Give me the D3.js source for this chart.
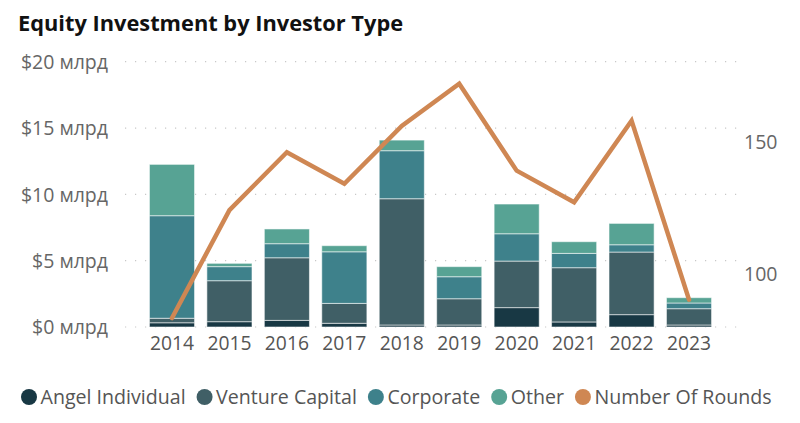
<!DOCTYPE html>
<html>
<head>
<meta charset="utf-8">
<script src="https://cdn.jsdelivr.net/npm/d3@7"></script>
<style>
  body { margin: 0; background: #fff; }
  svg text { font-family: "Open Sans", "Noto Sans", sans-serif; }
</style>
</head>
<body>
<svg id="chart"></svg>
<script>
  var years = ["2014", "2015", "2016", "2017", "2018", "2019", "2020", "2021", "2022", "2023"];
  // billions of USD
  var angel     = [0.32, 0.40, 0.50, 0.28, 0.15, 0.15, 1.46, 0.38, 0.93, 0.15];
  var venture   = [0.34, 3.09, 4.72, 1.50, 9.52, 1.98, 3.51, 4.09, 4.72, 1.23];
  var corporate = [7.73, 1.06, 1.06, 3.89, 3.62, 1.66, 2.06, 1.08, 0.55, 0.43];
  var other     = [3.87, 0.25, 1.11, 0.46, 0.80, 0.76, 2.24, 0.88, 1.61, 0.40];
  var rounds    = [83, 124, 146, 134, 156, 172, 139, 127, 158, 90];
  var leftTicks = [0, 5, 10, 15, 20];
  var rightTicks = [100, 150];

  var seriesNames = ["Angel Individual", "Venture Capital", "Corporate", "Other"];
  var colors = ["#183844", "#405f66", "#3e818b", "#57a394"];
  var lineColor = "#cf8753";

  var svgWidth = 800, svgHeight = 423;
  var svg = d3.select("#chart")
    .attr("width", svgWidth)
    .attr("height", svgHeight);

  // stack rows
  var rows = years.map(function(y, i) {
    return { year: y, a: angel[i], v: venture[i], c: corporate[i], o: other[i], r: rounds[i] };
  });
  var keys = ["a", "v", "c", "o"];
  var stacked = d3.stack().keys(keys)(rows);

  var x = d3.scaleBand().domain(years).range([143.3, 717.7]).paddingInner(0.215).paddingOuter(0.107);
  var y = d3.scaleLinear().domain([0, 20]).range([327, 61.7]);
  var y2 = d3.scaleLinear().domain([79.6, 180.4]).range([327, 61.7]);

  svg.append("text")
    .attr("x", 18).attr("y", 31)
    .attr("font-size", 21.8).attr("font-weight", "bold").attr("fill", "#111")
    .text("Equity Investment by Investor Type");

  // gridlines
  svg.append("g").selectAll("line")
    .data(leftTicks).enter().append("line")
    .attr("x1", 125).attr("x2", 738)
    .attr("y1", function(d) { return y(d); })
    .attr("y2", function(d) { return y(d); })
    .attr("stroke", "#c8c8c8")
    .attr("stroke-width", 1.2)
    .attr("stroke-dasharray", "1.2,8.8");

  var yAxis = d3.axisLeft(y).tickValues(leftTicks)
    .tickFormat(function(d) { return "$" + d + " млрд"; })
    .tickSize(0).tickPadding(0);
  var gy = svg.append("g").attr("transform", "translate(108,0)").call(yAxis);
  gy.select(".domain").remove();
  gy.selectAll("text").attr("font-size", 19.5).attr("fill", "#666").attr("dy", "0.35em");

  var y2Axis = d3.axisRight(y2).tickValues(rightTicks).tickSize(0).tickPadding(0);
  var gy2 = svg.append("g").attr("transform", "translate(744,0)").call(y2Axis);
  gy2.select(".domain").remove();
  gy2.selectAll("text").attr("font-size", 19.5).attr("fill", "#666").attr("dy", "0.35em");

  var xAxis = d3.axisBottom(x).tickSize(0).tickPadding(0);
  var gx = svg.append("g").attr("transform", "translate(0,336)").call(xAxis);
  gx.select(".domain").remove();
  gx.selectAll("text").attr("font-size", 19.3).attr("fill", "#555").attr("dy", "0.71em");

  // bars
  svg.append("g").selectAll("g")
    .data(stacked).enter().append("g")
    .attr("fill", function(d, i) { return colors[i]; })
    .selectAll("rect")
    .data(function(d) { return d; }).enter().append("rect")
    .attr("x", function(d) { return x(d.data.year); })
    .attr("width", x.bandwidth())
    .attr("y", function(d) { return y(d[1]); })
    .attr("height", function(d) { return y(d[0]) - y(d[1]); })
    .attr("stroke", "rgba(255,255,255,0.55)")
    .attr("stroke-width", 1);

  // line
  var line = d3.line()
    .x(function(d) { return x(d.year) + x.bandwidth() / 2; })
    .y(function(d) { return y2(d.r); });
  svg.append("path")
    .datum(rows)
    .attr("fill", "none")
    .attr("stroke", lineColor)
    .attr("stroke-width", 4.5)
    .attr("stroke-linejoin", "miter")
    .attr("stroke-linecap", "round")
    .attr("d", line);

  // legend, laid out in a row
  var legendItems = seriesNames.map(function(n, i) { return { name: n, color: colors[i] }; })
    .concat([{ name: "Number Of Rounds", color: lineColor }]);
  var lg = svg.append("g");
  var cx = 29;
  legendItems.forEach(function(d) {
    var g = lg.append("g").attr("transform", "translate(" + cx + ",397)");
    g.append("circle").attr("r", 8).attr("fill", d.color);
    var t = g.append("text")
      .attr("x", 11.5).attr("dy", "0.35em")
      .attr("font-size", 19.6).attr("fill", "#555")
      .text(d.name);
    cx += 11.5 + t.node().getComputedTextLength() + 19;
  });
</script>
</body>
</html>
